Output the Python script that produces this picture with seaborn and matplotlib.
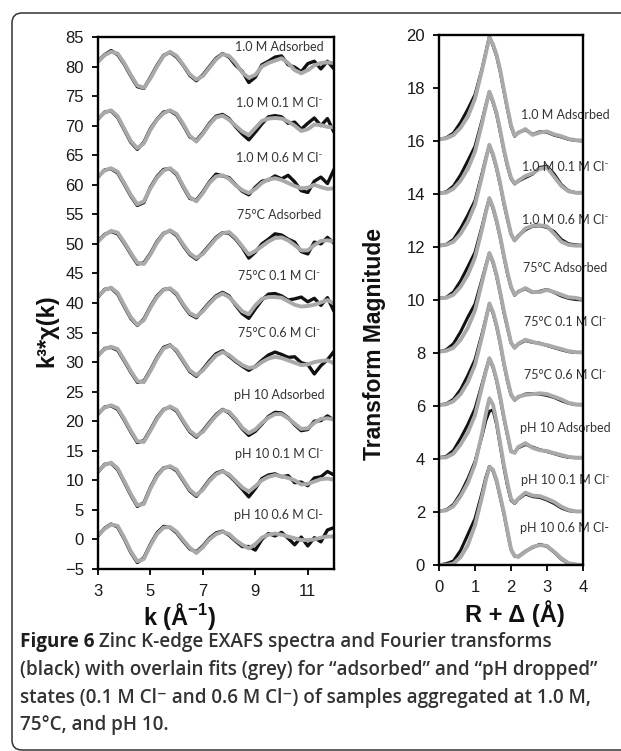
import matplotlib
matplotlib.use("Agg")
import matplotlib.pyplot as plt
from matplotlib.patches import FancyBboxPatch
import seaborn as sns

sns.set_theme(style="white")
plt.rcParams['font.family'] = ['Liberation Sans', 'DejaVu Sans']
plt.rcParams['mathtext.fontset'] = 'custom'
plt.rcParams['mathtext.rm'] = 'Liberation Sans'
plt.rcParams['mathtext.bf'] = 'Liberation Sans:bold'
plt.rcParams['mathtext.it'] = 'Liberation Sans:italic'

# ---------------- data : EXAFS (left) ----------------
k_values = [3.0, 3.25, 3.5, 3.75, 4.0, 4.25, 4.5, 4.75, 5.0, 5.25, 5.5, 5.75,
            6.0, 6.25, 6.5, 6.75, 7.0, 7.25, 7.5, 7.75, 8.0, 8.25, 8.5, 8.75,
            9.0, 9.25, 9.5, 9.75, 10.0, 10.25, 10.5, 10.75, 11.0, 11.25, 11.5,
            11.75, 12.0]

sample_labels = ["1.0 M Adsorbed", "1.0 M 0.1 M Cl\u207b", "1.0 M 0.6 M Cl\u207b",
                 "75\u00b0C Adsorbed", "75\u00b0C 0.1 M Cl\u207b", "75\u00b0C 0.6 M Cl\u207b",
                 "pH 10 Adsorbed", "pH 10 0.1 M Cl\u207b", "pH 10 0.6 M Cl-"]

exafs_fit_1 = [80.8, 81.9, 82.5, 82.2, 80.6, 78.6, 76.8, 76.4, 78.0, 80.0, 81.8, 82.5, 81.8, 80.3, 78.7, 77.8, 78.4, 79.8, 81.2, 82.1, 81.8, 80.6, 79.0, 78.1, 78.6, 80.0, 80.6, 81.0, 81.4, 80.6, 79.4, 78.85, 79.4, 80.2, 80.6, 80.7, 80.6]
exafs_dat_1 = [80.9, 82.0, 82.7, 82.0, 80.4, 78.4, 76.6, 76.3, 78.2, 80.2, 81.9, 82.4, 81.6, 80.2, 78.5, 77.6, 78.6, 80.0, 81.4, 82.2, 81.6, 80.2, 79.2, 77.3, 78.2, 80.3, 80.9, 81.6, 81.8, 80.3, 79.9, 79.1, 80.5, 80.9, 79.6, 80.9, 79.6]
exafs_fit_2 = [71.2, 72.2, 72.6, 71.6, 69.5, 67.4, 66.2, 67.0, 69.3, 71.0, 72.1, 72.6, 72.0, 70.3, 68.3, 67.3, 68.6, 70.2, 71.4, 71.7, 71.0, 70.0, 69.0, 68.4, 69.6, 70.8, 71.2, 71.3, 71.2, 70.7, 70.0, 69.1, 69.4, 70.2, 70.1, 69.8, 69.7]
exafs_dat_2 = [71.1, 72.3, 72.5, 71.4, 69.3, 67.2, 66.0, 67.2, 69.5, 71.1, 72.3, 72.5, 71.8, 70.1, 68.1, 67.5, 68.8, 70.4, 71.6, 71.9, 71.2, 69.8, 68.6, 67.6, 68.9, 70.3, 71.5, 71.7, 71.5, 70.4, 70.6, 69.4, 70.4, 71.3, 70.0, 71.2, 68.9]
exafs_fit_3 = [61.4, 62.4, 62.8, 62.2, 60.3, 58.3, 56.7, 57.2, 59.4, 61.2, 62.4, 62.8, 61.9, 59.8, 57.9, 57.2, 58.6, 60.3, 61.4, 61.6, 61.0, 59.9, 59.1, 58.6, 59.3, 60.3, 60.9, 61.1, 60.8, 60.3, 59.8, 59.4, 59.5, 60.0, 59.6, 59.3, 59.4]
exafs_dat_3 = [61.3, 62.5, 62.7, 62.0, 60.1, 58.1, 56.5, 57.0, 59.6, 61.4, 62.6, 62.7, 61.7, 59.6, 57.7, 57.4, 58.8, 60.5, 61.8, 61.5, 61.2, 60.0, 58.9, 58.3, 59.6, 60.6, 60.8, 61.5, 61.0, 61.6, 60.5, 59.0, 58.7, 60.6, 61.3, 60.2, 62.6]
exafs_fit_4 = [50.4, 51.5, 52.2, 51.9, 50.3, 48.5, 46.8, 46.6, 48.2, 50.2, 51.7, 52.3, 51.6, 49.9, 48.4, 47.6, 48.3, 49.6, 50.9, 51.8, 52.0, 51.0, 49.6, 48.2, 48.8, 49.6, 50.4, 51.0, 51.1, 50.6, 49.8, 48.9, 48.9, 49.8, 50.5, 50.6, 50.4]
exafs_dat_4 = [50.5, 51.6, 52.1, 51.7, 50.1, 48.3, 46.6, 46.8, 48.4, 50.4, 51.8, 52.2, 51.4, 49.7, 48.2, 47.4, 48.5, 49.8, 51.1, 51.9, 51.8, 50.8, 49.4, 47.6, 48.6, 50.0, 50.8, 51.7, 51.5, 50.8, 50.3, 48.7, 48.3, 50.3, 50.0, 51.1, 50.1]
exafs_fit_5 = [41.1, 42.2, 42.6, 41.7, 39.6, 37.6, 36.3, 37.1, 39.2, 41.0, 42.2, 42.5, 41.6, 39.8, 38.3, 37.7, 38.6, 39.9, 41.0, 41.6, 41.0, 39.8, 38.6, 38.1, 39.6, 40.7, 41.0, 41.0, 40.9, 40.3, 39.7, 39.4, 39.5, 39.7, 40.1, 40.5, 39.9]
exafs_dat_5 = [41.0, 42.3, 42.5, 41.5, 39.4, 37.4, 36.2, 37.3, 39.4, 41.2, 42.3, 42.4, 41.4, 39.6, 38.1, 37.5, 38.8, 40.1, 41.2, 41.8, 41.2, 39.6, 38.2, 37.4, 39.0, 40.5, 41.5, 41.6, 41.2, 40.5, 40.7, 41.0, 40.2, 40.8, 39.6, 40.9, 38.6]
exafs_fit_6 = [31.2, 32.2, 32.6, 32.2, 30.4, 28.5, 26.8, 26.6, 28.5, 30.6, 32.3, 32.8, 32.0, 30.3, 28.6, 27.8, 28.6, 29.9, 31.1, 31.7, 31.2, 30.3, 29.5, 29.0, 29.2, 30.0, 30.6, 30.9, 30.7, 30.3, 29.9, 29.5, 29.6, 30.0, 30.2, 30.3, 29.8]
exafs_dat_6 = [31.1, 32.3, 32.5, 32.0, 30.2, 28.3, 26.6, 26.8, 28.7, 30.8, 32.5, 32.9, 31.8, 30.1, 28.4, 27.6, 28.8, 30.2, 31.4, 31.9, 31.0, 30.1, 29.3, 28.6, 29.3, 30.3, 31.2, 31.7, 31.3, 30.8, 30.9, 29.9, 29.6, 28.0, 29.4, 30.4, 31.8]
exafs_fit_7 = [21.3, 22.3, 22.7, 22.2, 20.4, 18.4, 16.6, 16.5, 18.4, 20.4, 21.9, 22.5, 21.9, 20.1, 18.4, 17.5, 18.2, 19.6, 20.9, 21.9, 21.6, 20.4, 18.9, 18.0, 18.6, 19.7, 20.6, 21.2, 21.2, 20.5, 19.6, 18.7, 18.8, 19.7, 20.4, 20.5, 20.3]
exafs_dat_7 = [21.2, 22.4, 22.6, 22.0, 20.2, 18.2, 16.4, 16.7, 18.6, 20.6, 22.0, 22.4, 21.7, 19.9, 18.2, 17.3, 18.4, 19.8, 21.1, 22.0, 21.4, 20.2, 18.7, 17.6, 18.3, 19.5, 20.8, 21.5, 21.4, 20.6, 19.4, 18.4, 18.6, 20.0, 20.1, 20.9, 20.2]
exafs_fit_8 = [11.5, 12.6, 13.0, 12.0, 9.9, 7.7, 5.8, 6.0, 8.6, 10.7, 12.0, 12.4, 11.8, 10.1, 8.4, 7.5, 8.4, 9.9, 11.0, 11.5, 11.0, 9.9, 8.8, 8.1, 9.0, 10.0, 10.6, 10.9, 10.7, 10.4, 10.0, 9.3, 9.4, 9.8, 10.2, 10.3, 10.1]
exafs_dat_8 = [11.4, 12.7, 12.9, 11.8, 9.7, 7.5, 5.6, 6.2, 8.8, 10.9, 12.1, 12.3, 11.6, 9.9, 8.2, 7.3, 8.6, 10.1, 11.2, 11.6, 10.8, 9.7, 8.5, 7.2, 8.6, 10.3, 10.9, 11.1, 10.6, 10.8, 9.6, 9.7, 9.1, 10.4, 10.6, 11.5, 10.9]
exafs_fit_9 = [0.7, 1.8, 2.5, 2.3, 0.3, -2.0, -3.7, -3.3, -1.0, 0.9, 2.0, 2.1, 1.3, -0.1, -1.4, -2.3, -1.3, 0.0, 0.9, 1.3, 0.9, -0.1, -0.9, -1.5, -0.8, 0.3, 0.8, 1.0, 0.8, 0.5, 0.2, -0.1, -0.1, 0.0, 0.3, 0.5, 0.5]
exafs_dat_9 = [0.6, 1.9, 2.6, 2.1, 0.1, -2.2, -3.9, -3.1, -0.8, 1.1, 2.2, 2.0, 1.1, -0.3, -1.6, -2.1, -1.1, 0.2, 1.1, 1.4, 0.7, -0.3, -1.2, -1.2, -1.8, 0.0, 1.0, 0.6, 1.2, 0.2, -0.9, 0.4, -1.1, 0.3, -0.4, 1.6, 2.0]

exafs_fits = [exafs_fit_1, exafs_fit_2, exafs_fit_3, exafs_fit_4, exafs_fit_5,
              exafs_fit_6, exafs_fit_7, exafs_fit_8, exafs_fit_9]
exafs_data = [exafs_dat_1, exafs_dat_2, exafs_dat_3, exafs_dat_4, exafs_dat_5,
              exafs_dat_6, exafs_dat_7, exafs_dat_8, exafs_dat_9]
exafs_label_y = [83.3, 73.9, 64.5, 54.9, 44.5, 34.9, 24.4, 14.5, 4.1]

# ---------------- data : Fourier transforms (right) ----------------
r_values = [0.0, 0.2, 0.4, 0.6, 0.8, 1.0, 1.2, 1.3, 1.4, 1.5, 1.6, 1.7, 1.8,
            1.9, 2.0, 2.1, 2.2, 2.4, 2.6, 2.8, 3.0, 3.2, 3.4, 3.6, 3.8, 4.0]
ft_offsets = [16, 14, 12, 10, 8, 6, 4, 2, 0]

ft_fit_1 = [0.06, 0.10, 0.22, 0.50, 0.92, 1.60, 2.70, 3.30, 3.90, 3.65, 3.25, 2.68, 1.95, 1.25, 0.60, 0.20, 0.30, 0.45, 0.23, 0.32, 0.36, 0.25, 0.18, 0.08, 0.03, 0.02]
ft_dat_1 = [0.06, 0.12, 0.30, 0.70, 1.20, 1.75, 2.75, 3.35, 3.95, 3.60, 3.20, 2.62, 1.90, 1.20, 0.55, 0.18, 0.32, 0.42, 0.25, 0.35, 0.33, 0.22, 0.15, 0.06, 0.02, 0.00]
ft_fit_2 = [0.03, 0.05, 0.20, 0.50, 0.95, 1.60, 2.70, 3.30, 3.86, 3.50, 3.05, 2.40, 1.70, 1.10, 0.62, 0.40, 0.50, 0.68, 0.78, 0.95, 1.00, 0.65, 0.30, 0.10, 0.05, 0.05]
ft_dat_2 = [0.03, 0.08, 0.30, 0.72, 1.25, 1.80, 2.80, 3.35, 3.85, 3.45, 3.00, 2.35, 1.65, 1.05, 0.58, 0.38, 0.48, 0.62, 0.75, 1.00, 1.05, 0.75, 0.35, 0.12, 0.05, 0.05]
ft_fit_3 = [0.05, 0.08, 0.20, 0.50, 0.95, 1.60, 2.70, 3.30, 3.85, 3.50, 3.00, 2.40, 1.70, 1.10, 0.50, 0.25, 0.40, 0.70, 0.80, 0.82, 0.78, 0.50, 0.20, 0.08, 0.05, 0.05]
ft_dat_3 = [0.05, 0.10, 0.28, 0.70, 1.20, 1.75, 2.80, 3.35, 3.85, 3.45, 2.95, 2.35, 1.65, 1.05, 0.48, 0.24, 0.42, 0.65, 0.78, 0.80, 0.74, 0.58, 0.28, 0.12, 0.08, 0.06]
ft_fit_4 = [0.07, 0.08, 0.20, 0.50, 0.95, 1.60, 2.70, 3.30, 3.84, 3.50, 3.00, 2.40, 1.70, 1.05, 0.50, 0.20, 0.30, 0.45, 0.30, 0.30, 0.38, 0.30, 0.20, 0.10, 0.08, 0.02]
ft_dat_4 = [0.07, 0.10, 0.30, 0.72, 1.25, 1.80, 2.80, 3.35, 3.84, 3.45, 2.95, 2.35, 1.65, 1.00, 0.48, 0.18, 0.32, 0.42, 0.28, 0.33, 0.40, 0.28, 0.15, 0.06, 0.02, 0.00]
ft_fit_5 = [0.05, 0.08, 0.20, 0.50, 0.95, 1.60, 2.70, 3.25, 3.77, 3.45, 2.95, 2.30, 1.60, 1.00, 0.40, 0.19, 0.35, 0.50, 0.42, 0.35, 0.30, 0.22, 0.15, 0.07, 0.03, 0.02]
ft_dat_5 = [0.05, 0.12, 0.35, 0.80, 1.35, 1.85, 2.80, 3.30, 3.77, 3.40, 2.90, 2.25, 1.55, 0.95, 0.38, 0.20, 0.33, 0.47, 0.40, 0.37, 0.28, 0.20, 0.12, 0.05, 0.02, 0.02]
ft_fit_6 = [0.04, 0.06, 0.18, 0.45, 0.90, 1.55, 2.65, 3.25, 3.87, 3.55, 3.05, 2.40, 1.65, 1.00, 0.45, 0.23, 0.35, 0.42, 0.45, 0.48, 0.45, 0.35, 0.25, 0.12, 0.06, 0.05]
ft_dat_6 = [0.04, 0.08, 0.25, 0.62, 1.15, 1.75, 2.75, 3.30, 3.85, 3.50, 3.00, 2.35, 1.60, 0.95, 0.42, 0.22, 0.33, 0.45, 0.47, 0.45, 0.40, 0.32, 0.20, 0.10, 0.05, 0.05]
ft_fit_7 = [0.05, 0.06, 0.20, 0.55, 1.00, 1.65, 2.75, 3.30, 3.80, 3.50, 3.00, 2.35, 1.60, 0.95, 0.30, 0.23, 0.45, 0.60, 0.42, 0.33, 0.30, 0.22, 0.15, 0.08, 0.05, 0.05]
ft_dat_7 = [0.05, 0.10, 0.32, 0.78, 1.30, 1.90, 2.85, 3.35, 3.80, 3.45, 2.95, 2.30, 1.55, 0.90, 0.28, 0.25, 0.42, 0.55, 0.45, 0.35, 0.28, 0.20, 0.12, 0.06, 0.05, 0.05]
ft_fit_8 = [0.03, 0.06, 0.22, 0.60, 1.10, 1.80, 3.00, 3.70, 4.29, 4.05, 3.40, 2.60, 1.80, 1.10, 0.50, 0.34, 0.50, 0.73, 0.62, 0.60, 0.50, 0.38, 0.20, 0.08, 0.02, 0.02]
ft_dat_8 = [0.03, 0.08, 0.28, 0.70, 1.25, 1.90, 2.90, 3.45, 3.80, 3.85, 3.30, 2.50, 1.70, 1.00, 0.45, 0.32, 0.48, 0.68, 0.58, 0.55, 0.45, 0.32, 0.15, 0.05, 0.02, 0.02]
ft_fit_9 = [0.00, 0.00, 0.05, 0.30, 0.75, 1.50, 2.60, 3.20, 3.70, 3.60, 3.20, 2.60, 2.00, 1.30, 0.60, 0.35, 0.30, 0.50, 0.68, 0.75, 0.72, 0.50, 0.25, 0.07, 0.02, 0.00]
ft_dat_9 = [0.00, 0.05, 0.15, 0.55, 1.15, 1.75, 2.75, 3.30, 3.72, 3.55, 3.15, 2.55, 1.95, 1.25, 0.58, 0.33, 0.32, 0.52, 0.66, 0.78, 0.70, 0.48, 0.22, 0.05, 0.02, 0.00]

ft_fits = [ft_fit_1, ft_fit_2, ft_fit_3, ft_fit_4, ft_fit_5, ft_fit_6, ft_fit_7, ft_fit_8, ft_fit_9]
ft_data = [ft_dat_1, ft_dat_2, ft_dat_3, ft_dat_4, ft_dat_5, ft_dat_6, ft_dat_7, ft_dat_8, ft_dat_9]
ft_label_y = [16.98, 15.03, 13.02, 11.2, 9.18, 7.17, 5.16, 3.21, 1.38]

caption_lines = [
    "Zinc K-edge EXAFS spectra and Fourier transforms",
    "(black) with overlain fits (grey) for \u201cadsorbed\u201d and \u201cpH dropped\u201d",
    "states (0.1 M Cl\u207b and 0.6 M Cl\u207b) of samples aggregated at 1.0 M,",
    "75\u00b0C, and pH 10.",
]

# ---------------- style ----------------
BLACK = "#111111"
GREY = "#a9a9a9"
W, H = 621, 751

fig = plt.figure(figsize=(W / 100, H / 100), dpi=100)
fig.patch.set_facecolor("white")

axL = fig.add_axes([98 / W, (H - 569) / H, 236 / W, 532 / H])
axR = fig.add_axes([439 / W, (H - 565) / H, 144 / W, 530 / H])

for dat, fit in zip(exafs_data, exafs_fits):
    sns.lineplot(x=k_values, y=dat, ax=axL, color=BLACK, lw=2.4, sort=False,
                 estimator=None, legend=False)
    sns.lineplot(x=k_values, y=fit, ax=axL, color=GREY, lw=2.8, sort=False,
                 estimator=None, legend=False)

for off, dat, fit in zip(ft_offsets, ft_data, ft_fits):
    sns.lineplot(x=r_values, y=[v + off for v in dat], ax=axR, color=BLACK, lw=2.2,
                 sort=False, estimator=None, legend=False)
    sns.lineplot(x=r_values, y=[v + off for v in fit], ax=axR, color=GREY, lw=2.8,
                 sort=False, estimator=None, legend=False)

ann_font = ['Lato', 'DejaVu Sans']
for lab, yv in zip(sample_labels, exafs_label_y):
    axL.text(9.9, yv, lab, ha='center', va='center', fontsize=9, family=ann_font,
             color='#333333', zorder=2)
for lab, yv in zip(sample_labels, ft_label_y):
    axR.text(3.5, yv, lab, ha='center', va='center', fontsize=9, family=ann_font,
             color='#333333', zorder=2)

axL.set_xlim(3, 12)
axL.set_ylim(-5, 85)
axL.set_xticks([3, 5, 7, 9, 11])
axL.set_yticks(list(range(-5, 90, 5)))
axR.set_xlim(0, 4)
axR.set_ylim(0, 20)
axR.set_xticks([0, 1, 2, 3, 4])
axR.set_yticks(list(range(0, 22, 2)))

for ax in (axL, axR):
    ax.set_xlabel("")
    ax.set_ylabel("")
    for s in ax.spines.values():
        s.set_visible(True)
        s.set_color("black")
        s.set_linewidth(1.7)
        s.set_zorder(3)
    ax.tick_params(axis='both', which='both', direction='out', length=4, width=1.3,
                   color='black', labelsize=12, labelcolor='#1a1a1a',
                   bottom=True, left=True, top=False, right=False)
    ax.tick_params(axis='x', pad=7)
    ax.tick_params(axis='y', pad=6)
    ax.set_facecolor("white")
    ax.grid(False)

# axis titles
fig.text(47 / W, 1 - 331 / H, "k\u00b3*\u03c7(k)", rotation=90, ha='center', va='center',
         fontsize=17, fontweight='bold', color='#111111')
fig.text(180 / W, 1 - 616 / H, r"k (Å$^{\mathbf{-1}}$)", ha='center', va='center',
         fontsize=17, fontweight='bold', color='#111111')
fig.text(375 / W, 1 - 344 / H, "Transform Magnitude", rotation=90, ha='center',
         va='center', fontsize=16.5, fontweight='bold', color='#111111')
fig.text(515 / W, 1 - 614 / H, "R + \u0394 (Å)", ha='center', va='center',
         fontsize=17, fontweight='bold', color='#111111')

# frame around figure + caption
frame = FancyBboxPatch((0.12, 0.01), 6.40, 7.37,
                       boxstyle="round,pad=0,rounding_size=0.1",
                       transform=fig.dpi_scale_trans, fill=False,
                       edgecolor='#333333', linewidth=1.1)
fig.patches.append(frame)

cap_font = ['Open Sans', 'DejaVu Sans']
cap_size = 13.6
baselines = [647, 675, 702.5, 730]
renderer = fig.canvas.get_renderer()
t0 = fig.text(20 / W, 1 - baselines[0] / H, "Figure 6", ha='left', va='baseline',
              fontsize=cap_size, fontweight='bold', family=cap_font, color='#1e1e1e')
bb = t0.get_window_extent(renderer=renderer)
fig.text(bb.x1 / W, 1 - baselines[0] / H, " " + caption_lines[0], ha='left',
         va='baseline', fontsize=cap_size, fontweight='semibold', family=cap_font,
         color='#333333')
for line, base in zip(caption_lines[1:], baselines[1:]):
    fig.text(20 / W, 1 - base / H, line, ha='left', va='baseline', fontsize=cap_size,
             fontweight='semibold', family=cap_font, color='#333333')

fig.savefig("out.png", dpi=100, facecolor="white")
